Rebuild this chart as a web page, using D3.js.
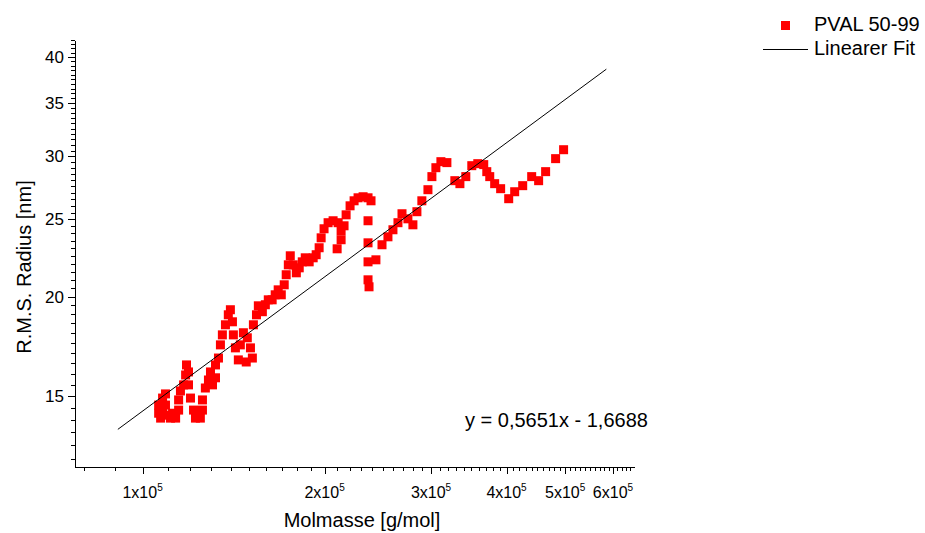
<!DOCTYPE html>
<html>
<head>
<meta charset="utf-8">
<script src="https://cdn.jsdelivr.net/npm/d3@7"></script>
<style>
  html, body { margin: 0; padding: 0; background: #fff; }
  svg { display: block; font-family: "Liberation Sans", Arial, sans-serif; }
</style>
</head>
<body>
<div id="chart"></div>
<script>
// ---------- data ----------
const seriesName = "PVAL 50-99";
const fitName = "Linearer Fit";
const fitEquation = "y = 0,5651x - 1,6688";
const xTitle = "Molmasse [g/mol]";
const yTitle = "R.M.S. Radius [nm]";

// molar mass (g/mol)
const molmasse = [
  1.063e5, 1.063e5, 1.071e5, 1.079e5, 1.079e5, 1.091e5, 1.091e5, 1.104e5, 1.112e5, 1.121e5,
  1.134e5, 1.147e5, 1.147e5, 1.155e5, 1.169e5, 1.178e5, 1.182e5, 1.191e5, 1.191e5, 1.200e5,
  1.214e5, 1.223e5, 1.232e5, 1.246e5, 1.256e5, 1.256e5, 1.270e5, 1.285e5, 1.295e5, 1.305e5,
  1.320e5, 1.320e5, 1.335e5, 1.345e5, 1.355e5, 1.371e5, 1.386e5, 1.397e5, 1.408e5, 1.413e5,
  1.424e5, 1.440e5, 1.451e5, 1.468e5, 1.490e5, 1.508e5, 1.519e5, 1.484e5, 1.525e5, 1.543e5,
  1.554e5, 1.578e5, 1.596e5, 1.614e5, 1.638e5, 1.657e5, 1.676e5, 1.696e5, 1.715e5, 1.728e5,
  1.742e5, 1.755e5, 1.775e5, 1.796e5, 1.816e5, 1.837e5, 1.858e5, 1.886e5, 1.915e5, 1.937e5,
  1.959e5, 1.974e5, 1.996e5, 2.027e5, 2.066e5, 2.106e5, 2.130e5, 2.130e5, 2.098e5, 2.154e5,
  2.171e5, 2.204e5, 2.238e5, 2.272e5, 2.316e5, 2.360e5, 2.387e5, 2.360e5, 2.360e5, 2.360e5,
  2.432e5, 2.360e5, 2.369e5, 2.489e5, 2.546e5, 2.595e5, 2.645e5, 2.686e5, 2.747e5, 2.800e5,
  2.843e5, 2.897e5, 2.965e5, 3.010e5, 3.056e5, 3.115e5, 3.187e5, 3.285e5, 3.349e5, 3.425e5,
  3.504e5, 3.585e5, 3.667e5, 3.710e5, 3.752e5, 3.823e5, 3.911e5, 4.033e5, 4.126e5, 4.254e5,
  4.402e5, 4.520e5, 4.642e5, 4.822e5, 4.971e5
];
// RMS radius (nm)
const radius = [
  14.61, 14.27, 14.07, 14.40, 14.91, 15.09, 14.61, 14.19, 14.07, 14.27,
  14.07, 14.40, 14.83, 15.22, 15.49, 15.94, 16.41, 16.08, 15.49, 14.91,
  14.40, 14.07, 14.19, 14.07, 14.40, 14.83, 15.35, 15.71, 16.08, 15.49,
  15.81, 16.41, 16.74, 17.39, 17.90, 18.43, 18.97, 19.25, 18.59, 17.90,
  17.24, 16.65, 17.39, 18.01, 17.75, 17.24, 16.74, 16.55, 18.43, 18.97,
  19.47, 19.14, 19.53, 19.81, 19.81, 20.10, 20.39, 20.10, 20.69, 21.30,
  21.92, 22.50, 21.92, 21.42, 21.73, 22.11, 22.37, 22.11, 22.37, 22.57,
  23.03, 23.70, 24.33, 24.76, 24.90, 24.76, 24.19, 23.57, 22.96, 24.54,
  25.33, 26.00, 26.38, 26.61, 26.69, 26.61, 26.38, 24.90, 23.36, 22.11,
  22.24, 20.99, 20.57, 23.23, 23.77, 24.26, 24.76, 25.41, 25.04, 24.61,
  25.56, 26.38, 27.24, 28.29, 29.03, 29.54, 29.46, 27.96, 27.72, 28.29,
  29.20, 29.37, 29.29, 28.70, 28.29, 27.72, 27.32, 26.54, 27.08, 27.56,
  28.29, 27.96, 28.70, 29.80, 30.58
];

// linear fit line end points (log-log fit), M and radius
const fitM = [91000, 585000];
const fitR = [13.62, 38.6];

// axis ticks
const xMajor = [1e5, 2e5, 3e5, 4e5, 5e5, 6e5];
const xMajorMantissa = ["1", "2", "3", "4", "5", "6"];
const yMajor = [15, 20, 25, 30, 35, 40];

// ---------- drawing ----------
const W = 925, H = 533;
const svg = d3.select("#chart").append("svg")
  .attr("width", W).attr("height", H);

const x = d3.scaleLog().domain([77000, 650000]).range([74, 634]);
const y = d3.scaleLog().domain([12.25, 42]).range([466, 40]);

const xMinor = [];
for (let d = 80000; d <= 640000; d += 10000) {
  if (!xMajor.includes(d) && d >= x.domain()[0] && d <= x.domain()[1]) xMinor.push(d);
}
const yMinor = [];
for (let v = 12.5; v <= 42.01; v += 0.5) {
  if (!yMajor.includes(v)) yMinor.push(v);
}

// axes
const gx = svg.append("g").attr("transform", "translate(0,466.5)");
gx.call(d3.axisBottom(x).tickValues(xMinor).tickSize(4).tickSizeOuter(0).tickFormat(""));
const gx2 = svg.append("g").attr("transform", "translate(0,466.5)");
gx2.call(d3.axisBottom(x).tickValues(xMajor).tickSize(7).tickSizeOuter(0).tickFormat(""));
gx2.select(".domain").remove();

const gy = svg.append("g").attr("transform", "translate(74.5,0)");
gy.call(d3.axisLeft(y).tickValues(yMinor).tickSize(4).tickSizeOuter(0).tickFormat(""));
const gy2 = svg.append("g").attr("transform", "translate(74.5,0)");
gy2.call(d3.axisLeft(y).tickValues(yMajor).tickSize(7).tickSizeOuter(0).tickFormat(""));
gy2.select(".domain").remove();

svg.selectAll(".domain, .tick line")
  .attr("stroke", "#000").attr("stroke-width", 1).attr("shape-rendering", "crispEdges");

// y tick labels
svg.append("g").selectAll("text").data(yMajor).join("text")
  .attr("x", 64).attr("y", d => y(d) + 6)
  .attr("text-anchor", "end")
  .attr("font-size", 17)
  .attr("fill", "#000")
  .text(d => d);

// x tick labels with superscript exponent
const xl = svg.append("g").selectAll("text").data(xMajor).join("text")
  .attr("x", d => x(d)).attr("y", 498)
  .attr("text-anchor", "middle")
  .attr("font-size", 16)
  .attr("fill", "#000");
xl.append("tspan").text((d, i) => xMajorMantissa[i] + "x10");
xl.append("tspan").attr("dy", -7).attr("font-size", 10).text("5");

// titles
svg.append("text")
  .attr("x", 362).attr("y", 527)
  .attr("text-anchor", "middle").attr("font-size", 20).attr("fill", "#000")
  .text(xTitle);
svg.append("text")
  .attr("transform", "translate(31,267) rotate(-90)")
  .attr("text-anchor", "middle").attr("font-size", 20).attr("fill", "#000")
  .text(yTitle);

// data points
const pts = molmasse.map((m, i) => ({ m, r: radius[i] }));
const S = 9;
svg.append("g").selectAll("rect").data(pts).join("rect")
  .attr("x", d => x(d.m) - S / 2)
  .attr("y", d => y(d.r) - S / 2)
  .attr("width", S).attr("height", S)
  .attr("fill", "#ff0000");

// fit line
const line = d3.line().x(d => x(d[0])).y(d => y(d[1]));
svg.append("path")
  .datum(fitM.map((m, i) => [m, fitR[i]]))
  .attr("d", line)
  .attr("fill", "none").attr("stroke", "#000").attr("stroke-width", 1);

// equation
svg.append("text")
  .attr("x", 465).attr("y", 427)
  .attr("font-size", 20).attr("fill", "#000")
  .text(fitEquation);

// legend
svg.append("rect")
  .attr("x", 781).attr("y", 21).attr("width", S).attr("height", S)
  .attr("fill", "#ff0000");
svg.append("text")
  .attr("x", 814).attr("y", 31)
  .attr("font-size", 20).attr("fill", "#000")
  .text(seriesName);
svg.append("line")
  .attr("x1", 763).attr("x2", 808).attr("y1", 49.5).attr("y2", 49.5)
  .attr("stroke", "#000").attr("stroke-width", 1);
svg.append("text")
  .attr("x", 814).attr("y", 55)
  .attr("font-size", 20).attr("fill", "#000")
  .text(fitName);
</script>
</body>
</html>
